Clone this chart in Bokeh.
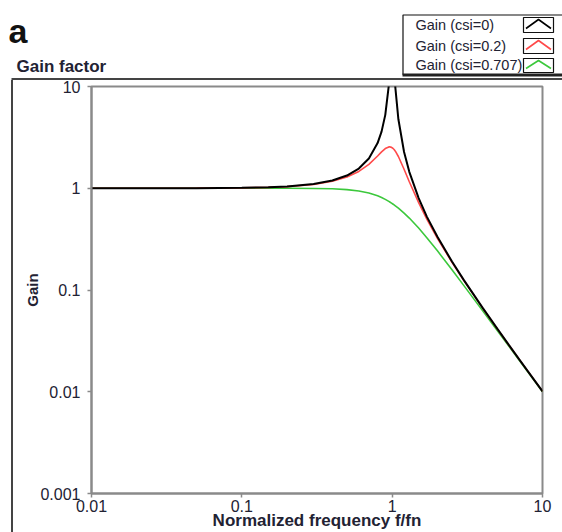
from bokeh.plotting import figure
from bokeh.models import (FixedTicker, CustomJSTickFormatter, Range1d, Div,
                          Spacer, ColumnDataSource)
from bokeh.layouts import column, row
from bokeh.core.properties import value
from bokeh.embed import file_html
from bokeh.resources import INLINE

# ---- data ----
freq = [0.01, 0.02, 0.05, 0.1, 0.15, 0.2, 0.3, 0.4, 0.5, 0.6, 0.7, 0.8, 0.85,
        0.9, 0.95, 0.97, 0.99, 1.01, 1.03, 1.05, 1.1, 1.2, 1.3, 1.5, 1.7, 2,
        2.5, 3, 4, 5, 6, 7, 8, 10]
gain_csi_0 = [1.0001, 1.0004, 1.0025, 1.0101, 1.023, 1.0417, 1.0989, 1.1905,
              1.3333, 1.5625, 1.9608, 2.7778, 3.604, 5.263, 10.26, 16.92,
              50.25, 49.75, 16.42, 9.76, 4.762, 2.273, 1.449, 0.8, 0.5263,
              0.3333, 0.1905, 0.125, 0.0667, 0.04167, 0.02857, 0.02083,
              0.01587, 0.0101]
gain_csi_02 = [1.0, 1.0004, 1.0023, 1.0093, 1.0211, 1.0381, 1.0895, 1.1695,
               1.2883, 1.463, 1.7188, 2.0761, 2.2786, 2.4566, 2.549, 2.548,
               2.522, 2.472, 2.401, 2.313, 2.051, 1.5357, 1.1574, 0.7212,
               0.4979, 0.3221, 0.1871, 0.1236, 0.06629, 0.04152, 0.0285,
               0.0208, 0.01585, 0.01009]
gain_csi_0707 = [1.0, 1.0, 1.0, 1.0, 0.99975, 0.9992, 0.996, 0.9875, 0.9701,
                 0.9409, 0.898, 0.8423, 0.8106, 0.7771, 0.7424, 0.7283,
                 0.7142, 0.7, 0.6859, 0.6718, 0.637, 0.5704, 0.5092, 0.4061,
                 0.327, 0.2425, 0.158, 0.1104, 0.06238, 0.03997, 0.02777,
                 0.0204, 0.01562, 0.01]
x_ticks = [0.01, 0.1, 1, 10]
y_ticks = [0.001, 0.01, 0.1, 1, 10]
series_labels = ["Gain (csi=0)", "Gain (csi=0.2)", "Gain (csi=0.707)"]
series_colors = ["#000000", "#ff4a4a", "#3cc83c"]
panel_letter = "a"
panel_title = "Gain factor"
x_label = "Normalized frequency f/fn"
y_label = "Gain"

FONT = "Liberation Sans"
TXT = "#222233"
FRAME = "#444444"

# ---------------- header strip (panel letter, title, legend) ----------------
W, TOP_H = 562, 80
top = figure(width=W, height=TOP_H, x_range=Range1d(0, W),
             y_range=Range1d(TOP_H, 0), output_backend="svg",
             toolbar_location=None, x_axis_location=None,
             y_axis_location=None, min_border=0)
top.outline_line_color = None
top.xgrid.visible = False
top.ygrid.visible = False
top.background_fill_color = "white"
top.border_fill_color = "white"

top.text(x=[8], y=[30], text=[panel_letter], text_font=value(FONT),
         text_font_size="34px", text_font_style="bold", text_color="#111111",
         text_baseline="alphabetic")
top.text(x=[16], y=[66], text=[panel_title], text_font=value(FONT),
         text_font_size="17px", text_font_style="bold", text_color=TXT,
         text_baseline="alphabetic")

# outer frame (top edge)
top.quad(left=[11], right=[W + 5], top=[77.5], bottom=[80.5],
         fill_color=FRAME, line_color=None)

# legend box
top.quad(left=[402.5], right=[W + 5], top=[14.5], bottom=[74],
         fill_color="white", line_color="#111111", line_width=1.2)
top.quad(left=[402], right=[W + 5], top=[73], bottom=[76],
         fill_color="#222222", line_color=None)

row_top = [17, 38, 58]
row_bot = [32, 53, 72]
sym_l, sym_r = 523, 553
for t, b, lab, col in zip(row_top, row_bot, series_labels, series_colors):
    top.quad(left=[sym_l], right=[sym_r], top=[t], bottom=[b],
             fill_color="white", line_color="#111111", line_width=1.2)
    mid = (sym_l + sym_r) / 2
    top.line(x=[sym_l + 2.5, mid, sym_r - 2.5], y=[b - 4, t + 2, b - 4],
             line_color=col, line_width=1.6)
    top.text(x=[415], y=[(t + b) / 2 - 0.5], text=[lab], text_font=value(FONT),
             text_font_size="14.5px", text_color=TXT, text_baseline="middle")

# ---------------- main chart ----------------
MAIN_X0 = 13
MAIN_H = 532 - TOP_H
p = figure(width=W - MAIN_X0, height=MAIN_H, x_axis_type="log",
           y_axis_type="log", x_range=Range1d(0.01, 10),
           y_range=Range1d(0.001, 10), output_backend="svg",
           toolbar_location=None,
           min_border_left=91 - MAIN_X0, min_border_right=W - 542,
           min_border_top=86 - TOP_H, min_border_bottom=532 - 493)
p.background_fill_color = "white"
p.border_fill_color = "white"
p.outline_line_color = "#8a8a8a"
p.outline_line_width = 2
p.xgrid.visible = False
p.ygrid.visible = False

fmt = CustomJSTickFormatter(code="return tick.toString();")
for ax, ticks in ((p.xaxis[0], x_ticks), (p.yaxis[0], y_ticks)):
    ax.ticker = FixedTicker(ticks=ticks, minor_ticks=[])
    ax.formatter = fmt
    ax.axis_line_color = "#8a8a8a"
    ax.axis_line_width = 2
    ax.major_tick_line_color = "#8a8a8a"
    ax.major_tick_line_width = 1.5
    ax.major_tick_out = 4
    ax.major_tick_in = 0
    ax.minor_tick_line_color = None
    ax.major_label_text_font = FONT
    ax.major_label_text_font_size = "16px"
    ax.major_label_text_color = TXT
    ax.axis_label_text_font = FONT
    ax.axis_label_text_font_style = "bold"
    ax.axis_label_text_color = TXT

p.xaxis.major_label_standoff = 2
p.xaxis.axis_label = x_label
p.xaxis.axis_label_text_font_size = "17px"
p.xaxis.axis_label_standoff = -4
p.yaxis.major_label_standoff = 7
p.yaxis.axis_label = y_label
p.yaxis.axis_label_text_font_size = "15px"
p.yaxis.axis_label_standoff = -4

src = ColumnDataSource(dict(f=freq, g0=gain_csi_0, g02=gain_csi_02,
                            g0707=gain_csi_0707))
p.line("f", "g0707", source=src, line_color=series_colors[2], line_width=1.6)
p.line("f", "g02", source=src, line_color=series_colors[1], line_width=1.6)
p.line("f", "g0", source=src, line_color=series_colors[0], line_width=2.0)

# outer frame (left edge) as a thin filled strip beside the chart
left_gap = Spacer(width=11, height=MAIN_H, margin=0)
left_edge = Div(text="", width=2, height=MAIN_H, margin=0,
                styles={"background-color": FRAME})

layout = column(top, row(left_gap, left_edge, p, spacing=0), spacing=0)

open("out.html", "w").write(file_html(layout, INLINE))
